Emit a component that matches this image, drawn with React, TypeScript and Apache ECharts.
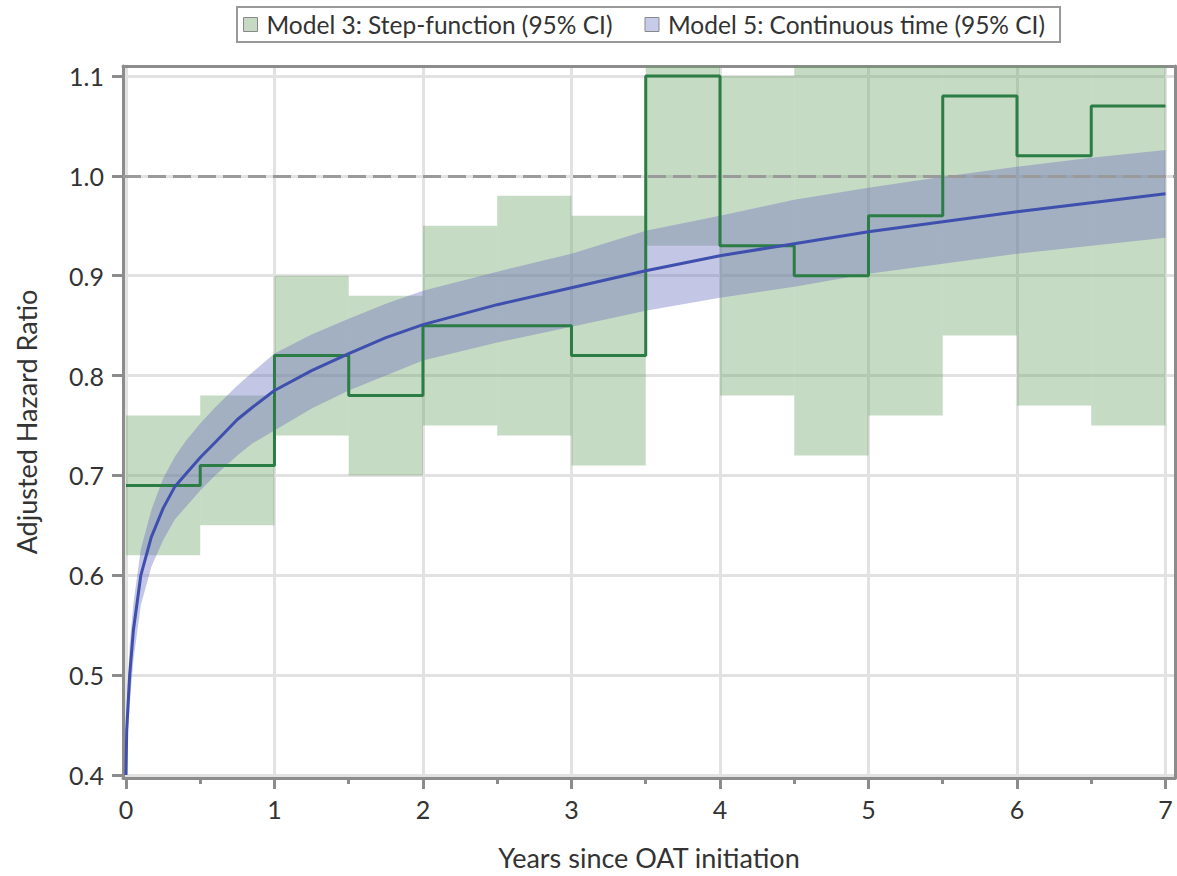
import React, { useEffect, useRef } from "react";
import * as echarts from "echarts";

// ---- Model 3: step-function (half-year intervals) ----
const STEP_START = [0, 0.5, 1, 1.5, 2, 2.5, 3, 3.5, 4, 4.5, 5, 5.5, 6, 6.5];
const STEP_END = [0.5, 1, 1.5, 2, 2.5, 3, 3.5, 4, 4.5, 5, 5.5, 6, 6.5, 7];
const STEP_HR = [0.69, 0.71, 0.82, 0.78, 0.85, 0.85, 0.82, 1.1, 0.93, 0.9, 0.96, 1.08, 1.02, 1.07];
const STEP_LOW = [0.62, 0.65, 0.74, 0.7, 0.75, 0.74, 0.71, 0.93, 0.78, 0.72, 0.76, 0.84, 0.77, 0.75];
const STEP_HIGH = [0.76, 0.78, 0.9, 0.88, 0.95, 0.98, 0.96, 1.3, 1.1, 1.25, 1.2, 1.4, 1.35, 1.5];

// ---- Model 5: continuous time ----
const CT_T = [0, 0.005, 0.025, 0.05, 0.1, 0.17, 0.25, 0.33, 0.4, 0.5, 0.6, 0.75, 0.85, 1, 1.25, 1.5, 1.75, 2, 2.5, 3, 3.5, 4, 4.5, 5, 5.5, 6, 6.5, 7];
const CT_HR = [0.4, 0.445, 0.5, 0.545, 0.6, 0.638, 0.667, 0.689, 0.701, 0.718, 0.733, 0.756, 0.768, 0.785, 0.805, 0.822, 0.838, 0.851, 0.871, 0.888, 0.905, 0.92, 0.932, 0.944, 0.954, 0.964, 0.973, 0.982];
const CT_UP = [0.4, 0.47, 0.53, 0.572, 0.626, 0.665, 0.697, 0.719, 0.734, 0.752, 0.768, 0.79, 0.803, 0.822, 0.841, 0.857, 0.872, 0.885, 0.904, 0.922, 0.945, 0.96, 0.976, 0.988, 0.999, 1.009, 1.018, 1.026];
const CT_LOW = [0.4, 0.42, 0.47, 0.515, 0.57, 0.608, 0.635, 0.656, 0.668, 0.685, 0.7, 0.72, 0.732, 0.745, 0.767, 0.785, 0.8, 0.815, 0.833, 0.849, 0.865, 0.878, 0.889, 0.902, 0.912, 0.922, 0.93, 0.938];

// ---- axes ----
const X_TICKS = [0, 1, 2, 3, 4, 5, 6, 7];
const X_MINOR = [0.5, 1.5, 2.5, 3.5, 4.5, 5.5, 6.5];
const Y_TICKS = [0.4, 0.5, 0.6, 0.7, 0.8, 0.9, 1.0, 1.1];
const REF_HR = 1.0;
const X_MIN = -0.02;
const X_MAX = 7.064;
const Y_MIN = 0.397;
const Y_MAX = 1.11;

const NAME_STEP = "Model 3: Step-function (95% CI)";
const NAME_CT = "Model 5: Continuous time (95% CI)";

const FONT = "Lato";
const FRAME = "#8c8c8c";

export default function App() {
  const ref = useRef<HTMLDivElement>(null);
  useEffect(() => {
    document.body.style.margin = "0";
    const chart = echarts.init(ref.current!, null, { renderer: "svg" });

    const rectData = STEP_START.map((s, i) => [s, STEP_END[i], STEP_LOW[i], STEP_HIGH[i]]);
    const stepLine = STEP_START.map((s, i) => [s, STEP_HR[i]]);
    stepLine.push([STEP_END[STEP_END.length - 1], STEP_HR[STEP_HR.length - 1]]);
    const estLine = CT_T.map((t, i) => [t, CT_HR[i]]);
    const bandData = CT_T.map((t, i) => [t, CT_LOW[i], CT_UP[i]]);

    const axisLabelStyle = { fontFamily: FONT, fontSize: 25, color: "#333" };

    chart.setOption({
      animation: false,
      backgroundColor: "#fff",
      legend: {
        left: 237,
        top: 7,
        padding: [5, 15, 5, 6],
        borderColor: "#999",
        borderWidth: 2,
        itemWidth: 14,
        itemHeight: 14,
        itemGap: 32,
        textStyle: { fontFamily: FONT, fontSize: 24.5, color: "#333", padding: [0, 0, 0, 4] },
        data: [
          { name: NAME_STEP, icon: "rect", itemStyle: { color: "#c6dac3", borderColor: "#888", borderWidth: 1 } },
          { name: NAME_CT, icon: "rect", itemStyle: { color: "#c8caea", borderColor: "#888", borderWidth: 1 } },
        ],
        selectedMode: false,
      },
      grid: { left: 123, top: 66, right: 2, bottom: 98 },
      xAxis: [
        {
          type: "value",
          min: X_MIN,
          max: X_MAX,
          name: "Years since OAT initiation",
          nameLocation: "middle",
          nameGap: 66,
          nameTextStyle: { fontFamily: FONT, fontSize: 27, color: "#333" },
          axisLine: { show: true, onZero: false, lineStyle: { color: FRAME, width: 3 } },
          axisTick: { show: true, customValues: X_TICKS, length: 11, lineStyle: { color: FRAME, width: 3 } },
          axisLabel: { show: true, customValues: X_TICKS, margin: 18, ...axisLabelStyle, formatter: (v: number) => String(v) },
          splitLine: { show: false },
        },
        {
          type: "value",
          min: X_MIN,
          max: X_MAX,
          position: "bottom",
          axisLine: { show: false },
          axisTick: { show: true, customValues: X_MINOR, length: 6, lineStyle: { color: FRAME, width: 3 } },
          axisLabel: { show: false },
          splitLine: { show: false },
        },
        {
          type: "value",
          min: X_MIN,
          max: X_MAX,
          position: "top",
          axisLine: { show: true, onZero: false, lineStyle: { color: FRAME, width: 3 } },
          axisTick: { show: false },
          axisLabel: { show: false },
          splitLine: { show: false },
        },
      ],
      yAxis: [
        {
          type: "value",
          min: Y_MIN,
          max: Y_MAX,
          name: "Adjusted Hazard Ratio",
          nameLocation: "middle",
          nameGap: 83,
          nameTextStyle: { fontFamily: FONT, fontSize: 27, color: "#333" },
          axisLine: { show: true, onZero: false, lineStyle: { color: FRAME, width: 3 } },
          axisTick: { show: true, customValues: Y_TICKS, length: 11, lineStyle: { color: FRAME, width: 3 } },
          axisLabel: { show: true, customValues: Y_TICKS, margin: 19, ...axisLabelStyle, formatter: (v: number) => v.toFixed(1) },
          splitLine: { show: false },
        },
        {
          type: "value",
          min: Y_MIN,
          max: Y_MAX,
          position: "right",
          axisLine: { show: true, onZero: false, lineStyle: { color: FRAME, width: 3 } },
          axisTick: { show: false },
          axisLabel: { show: false },
          splitLine: { show: false },
        },
      ],
      series: [
        {
          name: "grid",
          type: "line",
          data: [],
          z: 0,
          silent: true,
          markLine: {
            z: 0,
            silent: true,
            symbol: "none",
            label: { show: false },
            lineStyle: { color: "#e2e2e2", width: 3, type: "solid" },
            data: [...X_TICKS.map((v) => ({ xAxis: v })), ...Y_TICKS.map((v) => ({ yAxis: v }))],
          },
        },
        {
          name: NAME_STEP,
          type: "custom",
          z: 1,
          silent: true,
          data: rectData,
          encode: { x: [0, 1], y: [2, 3] },
          itemStyle: { color: "#c6dac3" },
          renderItem: (params: any, api: any) => {
            const p0 = api.coord([api.value(0), api.value(3)]);
            const p1 = api.coord([api.value(1), api.value(2)]);
            const cs = params.coordSys;
            const shape = echarts.graphic.clipRectByRect(
              { x: p0[0], y: p0[1], width: p1[0] - p0[0], height: p1[1] - p0[1] },
              { x: cs.x, y: cs.y, width: cs.width, height: cs.height }
            );
            return shape && { type: "rect", shape, style: { fill: "rgba(100,158,92,0.37)" } };
          },
        },
        {
          name: NAME_CT,
          type: "custom",
          z: 2,
          silent: true,
          data: bandData,
          encode: { x: 0, y: [1, 2] },
          itemStyle: { color: "#c8caea" },
          clip: true,
          renderItem: (params: any, api: any) => {
            if (params.dataIndex !== 0) return null;
            const upper = bandData.map((d) => api.coord([d[0], d[2]]));
            const lower = bandData.map((d) => api.coord([d[0], d[1]])).reverse();
            return {
              type: "polygon",
              shape: { points: upper.concat(lower) },
              style: { fill: "rgba(108,112,192,0.4)" },
            };
          },
        },
        {
          name: "ref",
          type: "line",
          data: [],
          z: 3,
          silent: true,
          markLine: {
            z: 3,
            silent: true,
            symbol: "none",
            label: { show: false },
            lineStyle: { color: "#9a9a9a", width: 3, type: [18, 7] },
            data: [{ yAxis: REF_HR }],
          },
        },
        {
          name: "stepEst",
          type: "line",
          z: 4,
          silent: true,
          step: "end",
          data: stepLine,
          symbol: "none",
          lineStyle: { color: "#2b7d45", width: 3 },
        },
        {
          name: "ctEst",
          type: "line",
          z: 5,
          silent: true,
          data: estLine,
          smooth: false,
          symbol: "none",
          lineStyle: { color: "#3f4fae", width: 3 },
        },
      ],
    });
    return () => chart.dispose();
  }, []);
  return <div ref={ref} style={{ width: 1177, height: 876 }} />;
}
